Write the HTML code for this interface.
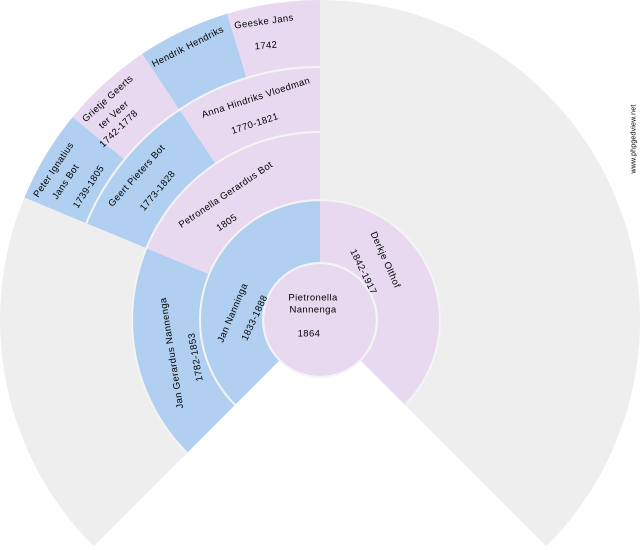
<!DOCTYPE html>
<html><head><meta charset="utf-8"><style>
html,body{margin:0;padding:0;background:#fff;}
svg{display:block;}
text{font-family:"Liberation Sans",sans-serif;font-size:9.5px;letter-spacing:0.4px;fill:#000;text-anchor:middle;dominant-baseline:central;}
</style></head><body>
<svg width="640" height="550" viewBox="0 0 640 550" xmlns="http://www.w3.org/2000/svg">
<g fill="#eeeeee">
<path d="M320,0 A320,320 0 0 1 546.3,546.3 L404.9,404.9 A120,120 0 0 0 320,200 Z"/>
<path d="M93.7,546.3 A320,320 0 0 1 24.4,197.5 L146.3,248.1 A188,188 0 0 0 187.1,452.9 Z"/>
</g>
<path fill="#b1cff0" d="M235.1,404.9 A120,120 0 0 1 320,200 L320,263 A57,57 0 0 0 279.7,360.3 Z"/>
<path fill="#e8d9f0" d="M320,200 A120,120 0 0 1 404.9,404.9 L360.3,360.3 A57,57 0 0 0 320,263 Z"/>
<path fill="#b1cff0" d="M187.1,452.9 A188,188 0 0 1 146.3,248.1 L209.1,274.1 A120,120 0 0 0 235.1,404.9 Z"/>
<path fill="#e8d9f0" d="M146.3,248.1 A188,188 0 0 1 320,132 L320,200 A120,120 0 0 0 209.1,274.1 Z"/>
<path fill="#b1cff0" d="M86.3,223.2 A253,253 0 0 1 179.4,109.6 L215.5,163.7 A188,188 0 0 0 146.3,248.1 Z"/>
<path fill="#e8d9f0" d="M179.4,109.6 A253,253 0 0 1 320,67 L320,132 A188,188 0 0 0 215.5,163.7 Z"/>
<path fill="#b1cff0" d="M24.4,197.5 A320,320 0 0 1 72.7,117 L124.5,159.5 A253,253 0 0 0 86.3,223.2 Z"/>
<path fill="#e8d9f0" d="M72.7,117 A320,320 0 0 1 142.2,53.9 L179.4,109.6 A253,253 0 0 0 124.5,159.5 Z"/>
<path fill="#b1cff0" d="M142.2,53.9 A320,320 0 0 1 227.1,13.8 L246.6,77.9 A253,253 0 0 0 179.4,109.6 Z"/>
<path fill="#e8d9f0" d="M227.1,13.8 A320,320 0 0 1 320,0 L320,67 A253,253 0 0 0 246.6,77.9 Z"/>
<circle cx="320" cy="320" r="56" fill="#e8d9f0"/>
<g fill="none" stroke="#f4f4f4" stroke-width="2">
<circle cx="320" cy="320" r="57"/>
<path d="M235.1,404.9 A120,120 0 1 1 404.9,404.9"/>
<path d="M187.1,452.9 A188,188 0 0 1 320,132"/>
<path d="M86.3,223.2 A253,253 0 0 1 320,67"/>
</g>
<text x="313" y="298">Pietronella</text>
<text x="313" y="310">Nannenga</text>
<text x="309" y="334">1864</text>

<text transform="translate(233,313) rotate(-67)">Jan Nanninga</text>
<text transform="translate(255,318) rotate(-65)">1833-1888</text>
<text transform="translate(385,260) rotate(66)">Derkje Olthof</text>
<text transform="translate(363,272) rotate(64)">1842-1917</text>

<text transform="translate(172,353) rotate(-99)">Jan Gerardus Nannenga</text>
<text transform="translate(196,357) rotate(-100)">1782-1853</text>
<text transform="translate(226,195) rotate(-34)">Petronella Gerardus Bot</text>
<text transform="translate(227,223) rotate(-34)">1805</text>

<text transform="translate(137,176) rotate(-48)">Geert Pieters Bot</text>
<text transform="translate(158,191) rotate(-50)">1773-1828</text>
<text transform="translate(256,98) rotate(-18)">Anna Hindriks Vloedman</text>
<text transform="translate(255,124) rotate(-18)">1770-1821</text>

<text transform="translate(54,170) rotate(-56)">Peter Ignatius</text>
<text transform="translate(66,182) rotate(-56)">Jans Bot</text>
<text transform="translate(89,187) rotate(-57)">1739-1805</text>
<text transform="translate(108,99) rotate(-42)">Grietje Geerts</text>
<text transform="translate(114,115) rotate(-42)">ter Veer</text>
<text transform="translate(119,129) rotate(-44)">1742-1778</text>
<text transform="translate(188,47) rotate(-27)">Hendrik Hendriks</text>
<text transform="translate(264,22) rotate(-8)">Geeske Jans</text>
<text transform="translate(266,46) rotate(-5)">1742</text>

<text transform="translate(634,139) rotate(-90)" style="font-size:7px;letter-spacing:0.2px">www.phpgedview.net</text>
</svg>
</body></html>
